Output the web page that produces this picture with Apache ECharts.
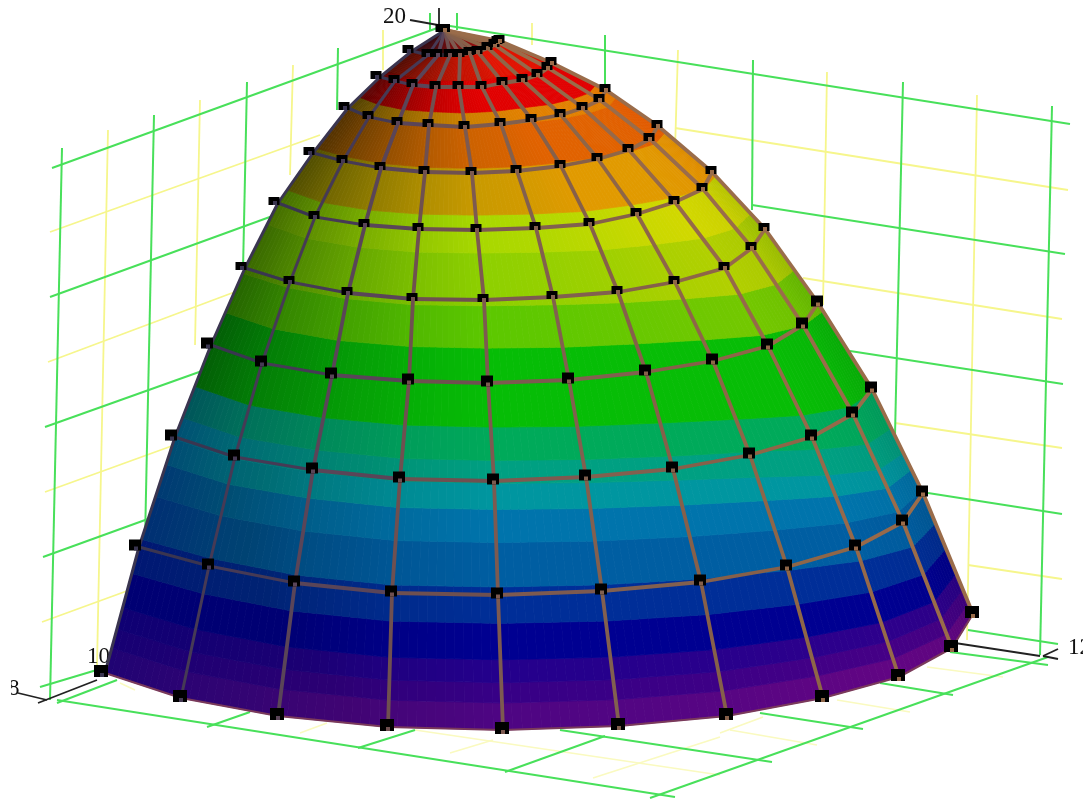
<!DOCTYPE html>
<html>
<head>
<meta charset="utf-8">
<style>
	html, body { margin: 0; padding: 0; background: #fff; }
	#chart { width: 1083px; height: 800px; }
</style>
<script src="https://cdn.jsdelivr.net/npm/echarts@6/dist/echarts.min.js"></script>
</head>
<body>
<div id="chart"></div>
<script>
// surface nodes, one list per ring, base ring first
var nodeX = [
	[105, 181, 278, 388, 503, 619, 727, 823, 899, 952, 973],
	[139, 209, 295, 392, 498, 602, 701, 787, 856, 903, 923],
	[175, 235, 313, 400, 494, 586, 673, 750, 812, 853, 872],
	[211, 262, 332, 409, 488, 569, 646, 713, 768, 803, 818],
	[245, 290, 348, 413, 484, 553, 618, 675, 725, 752, 765],
	[278, 315, 365, 419, 477, 536, 590, 637, 675, 703, 712],
	[313, 343, 381, 425, 472, 517, 561, 598, 629, 650, 658],
	[348, 369, 398, 429, 465, 501, 532, 561, 583, 600, 606],
	[380, 395, 413, 436, 459, 482, 503, 523, 538, 548, 552],
	[412, 428, 438, 450, 460, 470, 478, 488, 495, 498, 500],
	[445, 445, 445, 445, 445, 445, 445, 445, 445, 445, 445]
];
var nodeY = [
	[673, 698, 716, 727, 730, 726, 716, 698, 677, 648, 614],
	[547, 566, 583, 593, 595, 591, 582, 567, 547, 522, 493],
	[437, 457, 470, 479, 481, 477, 469, 455, 437, 414, 389],
	[345, 363, 375, 381, 383, 380, 372, 361, 346, 325, 303],
	[268, 282, 293, 299, 300, 297, 292, 282, 268, 248, 229],
	[203, 217, 225, 229, 230, 228, 224, 214, 202, 189, 172],
	[153, 161, 168, 172, 173, 171, 166, 159, 150, 139, 126],
	[108, 117, 123, 125, 127, 124, 120, 115, 108, 100, 90],
	[77, 81, 85, 87, 87, 87, 83, 80, 75, 68, 63],
	[51, 55, 55, 55, 55, 53, 52, 48, 45, 42, 41],
	[30, 30, 30, 30, 30, 30, 30, 30, 30, 30, 30]
];

// colour bands, edges measured in rings along the middle of the surface
var bandEdges = [0, 0.2, 0.35, 0.52, 0.79, 1.07, 1.46, 1.75, 1.98, 2.21, 2.55, 3.42, 3.93, 4.67, 5.26, 6.1, 6.98, 7.35, 8.2, 9, 10];
var bandColors = ['#4e0583', '#370086', '#24008c', '#000091', '#002e98', '#005ea2', '#0074ac', '#0096a0', '#00a082', '#00aa5a',
	'#06bd06', '#5cc800', '#8ed000', '#a8d800', '#c89a00', '#cc6200', '#cc8000', '#d80000', '#c41200', '#7a1010'];
var bandDrift = [0, 0, 0, 0, 0, -0.03, -0.08, -0.18, -0.33, -0.5, -0.6];
var driftWeight = [0.1, 0.5, 1, 0.9, 0.8, 0.6, 0.4, 0.3, 0.2, 0.1, 0];
var columnShade = [0.5, 0.66, 0.8, 0.92, 1, 1, 1, 1, 1, 0.97, 0.9];
var columnWarm = [0.8, 0.85, 0.9, 0.95, 1, 1.05, 1.12, 1.2, 1.25, 1.25, 1.2];
var meshColors = ['#3a3550', '#463a55', '#5a4558', '#6f5050', '#7d5a50', '#82604f', '#86604a', '#8e6648', '#96694a', '#9a6c4a', '#9a6c4a'];

// wall and floor rules: x1, y1, x2, y2
var greenLines = [
	[52, 168, 440, 27], [50, 297, 300, 206], [45, 427, 230, 361], [43, 557, 170, 511], [40, 687, 130, 660],
	[450, 26, 1070, 124], [752, 205, 1065, 254], [850, 351, 1063, 384], [928, 493, 1062, 514], [968, 630, 1058, 644],
	[62, 148, 50, 700], [154, 115, 145, 540], [247, 82, 243, 270], [338, 48, 337, 110], [430, 13, 430, 30], [457, 13, 457, 30],
	[605, 35, 605, 95], [753, 60, 752, 210], [903, 82, 895, 435], [1052, 106, 1040, 655],
	[57, 700, 675, 797], [1048, 657, 650, 798],
	[57, 703, 117, 680], [207, 727, 250, 712], [358, 748, 415, 730], [505, 772, 605, 736],
	[953, 695, 880, 683], [863, 729, 760, 713], [772, 762, 560, 730], [950, 652, 1048, 665]
];
var yellowLines = [
	[50, 232, 320, 135], [48, 362, 240, 290], [45, 492, 180, 443], [42, 622, 135, 588],
	[675, 128, 1068, 190], [803, 278, 1062, 319], [895, 423, 1062, 448], [968, 565, 1062, 579],
	[108, 130, 97, 665], [200, 100, 195, 345], [293, 65, 290, 175], [383, 30, 383, 70],
	[532, 23, 532, 45], [678, 50, 675, 150], [827, 72, 823, 305], [977, 95, 967, 640]
];
var floorYellowLines = [
	[120, 683, 135, 690], [300, 733, 327, 723], [415, 730, 720, 775], [450, 753, 493, 740], [593, 778, 720, 737],
	[730, 730, 817, 745], [720, 733, 763, 717], [837, 700, 910, 712], [927, 667, 1003, 677]
];
var axisLines = [
	[38, 703, 97, 680], [18, 693, 47, 700], [439, 8, 439, 30], [410, 20, 438, 25],
	[955, 643, 1040, 656], [1043, 656, 1058, 649], [1043, 656, 1058, 659]
];

// axis numbers
var labelText = ['20', '10', '8', '12'];
var labelX = [383, 87, 8, 1068];
var labelY = [28, 668, 700, 659];

var RINGS = nodeX.length - 1;
var COLS = nodeX[0].length - 1;
var STRIPS_PER_COL = 12;

function lerpList(list, pos) {
	var i = Math.min(Math.floor(pos), list.length - 2);
	return list[i] + (list[i + 1] - list[i]) * (pos - i);
}

// position on the surface, u across the columns, t up the rings
function surfacePoint(u, t) {
	var c = Math.min(Math.floor(u), COLS - 1);
	var r = Math.min(Math.floor(t), RINGS - 1);
	var fu = u - c;
	var ft = t - r;
	var x = (nodeX[r][c] * (1 - fu) + nodeX[r][c + 1] * fu) * (1 - ft) + (nodeX[r + 1][c] * (1 - fu) + nodeX[r + 1][c + 1] * fu) * ft;
	var y = (nodeY[r][c] * (1 - fu) + nodeY[r][c + 1] * fu) * (1 - ft) + (nodeY[r + 1][c] * (1 - fu) + nodeY[r + 1][c + 1] * fu) * ft;
	return [x, y];
}

function bandEdgeAt(k, u) {
	var edge = bandEdges[k];
	if (k === 0 || k === bandEdges.length - 1) {
		return edge;
	}
	return Math.max(0, Math.min(RINGS, edge + lerpList(bandDrift, u) * lerpList(driftWeight, edge)));
}

function patchColor(k, u) {
	var hex = bandColors[k];
	var shade = lerpList(columnShade, u);
	var warm = lerpList(columnWarm, u);
	var b0 = parseInt(hex.substr(5, 2), 16);
	var r = parseInt(hex.substr(1, 2), 16) * shade * warm;
	var g = parseInt(hex.substr(3, 2), 16) * shade;
	// blues hardly darken on the left side
	var b = Math.max(b0 * shade, Math.min(b0, 115));
	return 'rgb(' + Math.min(225, Math.round(r)) + ',' + Math.round(g) + ',' + Math.round(b) + ')';
}

function sidePoints(u, from, to) {
	var pts = [surfacePoint(u, from)];
	for (var t = Math.floor(from) + 1; t < to; t++) {
		pts.push(surfacePoint(u, t));
	}
	pts.push(surfacePoint(u, to));
	return pts;
}

function lineRenderer(color, width) {
	return function (params, api) {
		var a = api.coord([api.value(0), api.value(1)]);
		var b = api.coord([api.value(2), api.value(3)]);
		return {
			type: 'line',
			shape: { x1: a[0], y1: a[1], x2: b[0], y2: b[1] },
			style: { stroke: color, lineWidth: width }
		};
	};
}

var patchData = [];
for (var s = 0; s < COLS * STRIPS_PER_COL; s++) {
	for (var k = 0; k < bandColors.length; k++) {
		patchData.push([s, k]);
	}
}

var meshData = [];
var markerData = [];
for (var r = 0; r <= RINGS; r++) {
	for (var c = 0; c <= COLS; c++) {
		markerData.push([c, r]);
		if (r < RINGS) {
			meshData.push([c, r, c, r + 1]);
		}
		if (c < COLS && r < RINGS) {
			meshData.push([c, r, c + 1, r]);
		}
	}
}

function renderPatch(params, api) {
	var s = api.value(0);
	var k = api.value(1);
	var u0 = s / STRIPS_PER_COL;
	var u1 = (s + 1) / STRIPS_PER_COL;
	var left = sidePoints(u0, bandEdgeAt(k, u0), bandEdgeAt(k + 1, u0));
	var right = sidePoints(u1, bandEdgeAt(k, u1), bandEdgeAt(k + 1, u1));
	var points = left.concat(right.reverse()).map(function (p) {
		return api.coord(p);
	});
	var color = patchColor(k, (u0 + u1) / 2);
	return {
		type: 'polygon',
		shape: { points: points },
		style: { fill: color, stroke: color, lineWidth: 0.8 }
	};
}

function renderMesh(params, api) {
	var c0 = api.value(0);
	var r0 = api.value(1);
	var c1 = api.value(2);
	var r1 = api.value(3);
	var a = api.coord([nodeX[r0][c0], nodeY[r0][c0]]);
	var b = api.coord([nodeX[r1][c1], nodeY[r1][c1]]);
	var base = r0 === 0 && r1 === 0;
	return {
		type: 'line',
		shape: { x1: a[0], y1: a[1], x2: b[0], y2: b[1] },
		style: {
			stroke: base ? '#7a3a5a' : meshColors[c0],
			lineWidth: base ? 2 : (c0 < 2 ? 3 : 3.8),
			lineCap: 'round'
		}
	};
}

// black square with the mesh line showing through its lower edge
function renderMarker(params, api) {
	var c = api.value(0);
	var r = api.value(1);
	var p = api.coord([nodeX[r][c], nodeY[r][c]]);
	var w = r === 0 ? 14 : (r < 4 ? 12 : 11);
	var h = r === 0 ? 12 : (r < 4 ? 11 : 8);
	var dx = c === 0 ? -4 : -1;
	var x = p[0] + dx - w / 2;
	var y = p[1] - 2 - h / 2;
	return {
		type: 'group',
		children: [
			{ type: 'rect', shape: { x: x, y: y, width: w, height: h }, style: { fill: '#000' } },
			{ type: 'rect', shape: { x: x + w / 2 - 1, y: y + h - 4, width: 4, height: 4 }, style: { fill: meshColors[c] } }
		]
	};
}

function renderLabel(params, api) {
	var i = params.dataIndex;
	var p = api.coord([labelX[i], labelY[i]]);
	var el = {
		type: 'text',
		style: {
			text: labelText[i],
			x: p[0],
			y: p[1],
			textVerticalAlign: 'bottom',
			fontFamily: '"Liberation Serif"',
			fontSize: 23,
			fill: '#111'
		}
	};
	if (labelText[i] === '8') {
		el.clipPath = { type: 'rect', shape: { x: 11, y: 660, width: 40, height: 60 } };
	}
	return el;
}

function customSeries(name, data, renderItem, z) {
	return {
		name: name,
		type: 'custom',
		data: data,
		renderItem: renderItem,
		coordinateSystem: 'cartesian2d',
		clip: false,
		silent: true,
		animation: false,
		z: z
	};
}

var chart = echarts.init(document.getElementById('chart'));
chart.setOption({
	animation: false,
	backgroundColor: '#fff',
	grid: { left: 0, right: 0, top: 0, bottom: 0 },
	xAxis: { type: 'value', min: 0, max: 1083, show: false },
	yAxis: { type: 'value', min: 0, max: 800, inverse: true, show: false },
	series: [
		customSeries('floor yellow rules', floorYellowLines, lineRenderer('#fafac0', 1.6), 1),
		customSeries('yellow rules', yellowLines, lineRenderer('#f6f68c', 1.8), 1),
		customSeries('green rules', greenLines, lineRenderer('#48e05a', 2), 2),
		customSeries('axes', axisLines, lineRenderer('#222', 1.8), 3),
		customSeries('labels', labelText.map(function (t, i) { return [labelX[i], labelY[i]]; }), renderLabel, 4),
		customSeries('surface', patchData, renderPatch, 5),
		customSeries('mesh', meshData, renderMesh, 6),
		customSeries('nodes', markerData, renderMarker, 7)
	]
});
</script>
</body>
</html>
